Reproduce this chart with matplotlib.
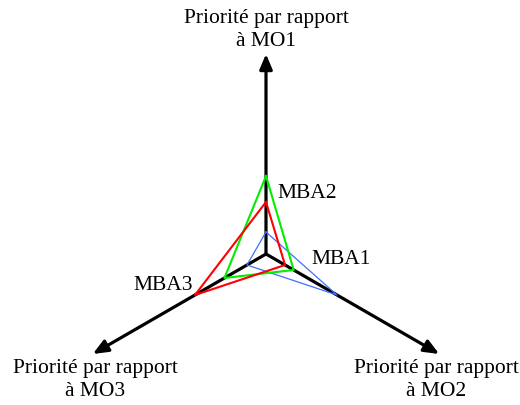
import numpy as np
import matplotlib.pyplot as plt

# Axes of the radar (MO1 up, MO2 lower right, MO3 lower left)
axis_labels = ['Priorité par rapport\nà MO1', 'Priorité par rapport\nà MO2', 'Priorité par rapport\nà MO3']
axis_angles = [90, -30, 210]

# Priorities (fraction of axis length) for each alternative
series_names = ['MBA1', 'MBA2', 'MBA3']
mba1 = [0.11, 0.41, 0.11]
mba2 = [0.39, 0.16, 0.24]
mba3 = [0.26, 0.11, 0.41]
series_colors = ['#3f6fff', '#00ee00', '#ff0000']
series_widths = [0.9, 1.5, 1.5]

L = 200  # axis length in pixels
theta = np.deg2rad(axis_angles)

fig = plt.figure(figsize=(5.2, 4.05), dpi=100)
ax = fig.add_axes([0, 0, 1, 1])
ax.set_xlim(-266, 254)
ax.set_ylim(-151, 254)
ax.axis('off')

# triangles
for vals, col, lw in zip([mba1, mba2, mba3], series_colors, series_widths):
    r = np.array(vals + vals[:1]) * L
    t = np.append(theta, theta[0])
    ax.plot(r * np.cos(t), r * np.sin(t), color=col, lw=lw, zorder=3)

# axes with arrows
for t in theta:
    ax.annotate('', xy=(L * np.cos(t), L * np.sin(t)), xytext=(0, 0),
                arrowprops=dict(arrowstyle='-|>,head_length=0.9,head_width=0.38',
                                color='black', lw=2.3, shrinkA=0, shrinkB=0),
                zorder=2)

font = dict(family='Liberation Serif', fontsize=15.5)
ax.text(0, 224, axis_labels[0], ha='center', va='center', linespacing=1.25, **font)
ax.text(170, -126, axis_labels[1], ha='center', va='center', linespacing=1.25, **font)
ax.text(-171, -126, axis_labels[2], ha='center', va='center', linespacing=1.25, **font)

ax.text(11, 60, series_names[1], ha='left', va='center', **font)
ax.text(45, -5, series_names[0], ha='left', va='center', **font)
ax.text(-73, -31, series_names[2], ha='right', va='center', **font)

fig.savefig('out.png', dpi=100)
